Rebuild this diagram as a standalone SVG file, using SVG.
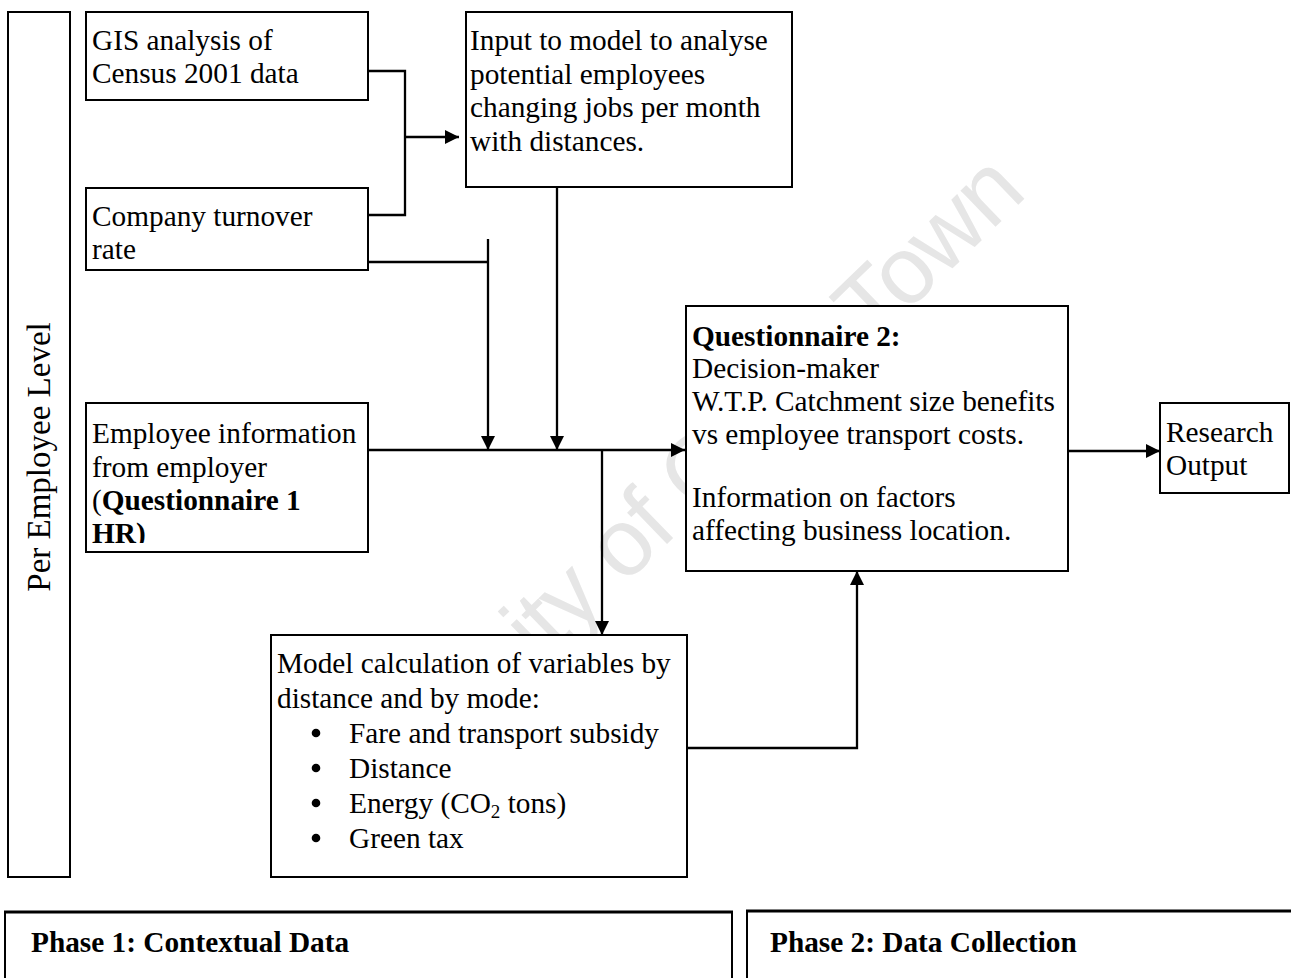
<svg xmlns="http://www.w3.org/2000/svg" width="1291" height="978" viewBox="0 0 1291 978">
<style>
.box{fill:#fff;stroke:#000;stroke-width:2}
.t{font-family:"Liberation Serif","Times New Roman",serif;font-size:29.3px;fill:#000}
.b{font-weight:bold}
.c{fill:none;stroke:#000;stroke-width:2.3}
.wm{font-family:"Liberation Sans",Arial,sans-serif;font-size:95px;fill:#e6e6e6;letter-spacing:-1.5px}
</style>
<defs>
<marker id="ah" markerUnits="userSpaceOnUse" markerWidth="15" markerHeight="15" refX="14" refY="7" orient="auto" viewBox="0 0 15 15">
<path d="M0,0 L14,7 L0,14 z" fill="#000"/>
</marker>
<clipPath id="empclip"><rect x="86" y="403" width="282" height="140"/></clipPath>
</defs>
<rect x="0" y="0" width="1291" height="978" fill="#fff"/>
<text class="wm" x="317" y="882" transform="rotate(-44 317 882)">University of Cape Town</text>

<g id="level">
<rect class="box" x="8" y="12" width="62" height="865"/>
<text class="t" font-size="33" transform="translate(50,457) rotate(-90)" text-anchor="middle" style="font-size:33px">Per Employee Level</text>
</g>

<g id="connectors">
<path class="c" d="M368,71 H405 V215 H368"/>
<path class="c" d="M405,137 H459" marker-end="url(#ah)"/>
<path class="c" d="M368,262 H488"/>
<path class="c" d="M488,239 V450" marker-end="url(#ah)"/>
<path class="c" d="M557,187 V450" marker-end="url(#ah)"/>
<path class="c" d="M368,450 H685" marker-end="url(#ah)"/>
<path class="c" d="M602,450 V635" marker-end="url(#ah)"/>
<path class="c" d="M687,748 H857 V571" marker-end="url(#ah)"/>
<path class="c" d="M1068,451 H1160" marker-end="url(#ah)"/>
</g>

<g id="gis">
<rect class="box" x="86" y="12" width="282" height="88"/>
<text class="t" x="92" y="50">GIS analysis of</text>
<text class="t" x="92" y="83">Census 2001 data</text>
</g>

<g id="turnover">
<rect class="box" x="86" y="188" width="282" height="82"/>
<text class="t" x="92" y="225.5">Company turnover</text>
<text class="t" x="92" y="258.5">rate</text>
</g>

<g id="input">
<rect class="box" x="466" y="12" width="326" height="175"/>
<text class="t" x="470" y="50">Input to model to analyse</text>
<text class="t" x="470" y="83.5">potential employees</text>
<text class="t" x="470" y="117">changing jobs per month</text>
<text class="t" x="470" y="150.5">with distances.</text>
</g>

<g id="employee">
<rect class="box" x="86" y="403" width="282" height="149"/>
<g clip-path="url(#empclip)">
<text class="t" x="92" y="443">Employee information</text>
<text class="t" x="92" y="476.5">from employer</text>
<text class="t" x="92" y="510">(<tspan class="b">Questionnaire 1</tspan></text>
<text class="t b" x="92" y="543">HR)</text>
</g>
</g>

<g id="questionnaire2">
<rect class="box" x="686" y="306" width="382" height="265"/>
<text class="t b" x="692" y="346">Questionnaire 2:</text>
<text class="t" x="692" y="378">Decision-maker</text>
<text class="t" x="692" y="411">W.T.P. Catchment size benefits</text>
<text class="t" x="692" y="444">vs employee transport costs.</text>
<text class="t" x="692" y="507">Information on factors</text>
<text class="t" x="692" y="540">affecting business location.</text>
</g>

<g id="research">
<rect class="box" x="1160" y="403" width="129" height="90"/>
<text class="t" x="1166" y="441.5">Research</text>
<text class="t" x="1166" y="474.5">Output</text>
</g>

<g id="model">
<rect class="box" x="271" y="635" width="416" height="242"/>
<text class="t" x="277" y="673">Model calculation of variables by</text>
<text class="t" x="277" y="708">distance and by mode:</text>
<circle cx="316" cy="733" r="4.3"/>
<text class="t" x="349" y="743">Fare and transport subsidy</text>
<circle cx="316" cy="768" r="4.3"/>
<text class="t" x="349" y="778">Distance</text>
<circle cx="316" cy="803" r="4.3"/>
<text class="t" x="349" y="813">Energy (CO<tspan font-size="19" dy="5">2</tspan><tspan dy="-5"> tons)</tspan></text>
<circle cx="316" cy="838" r="4.3"/>
<text class="t" x="349" y="848">Green tax</text>
</g>

<g id="phase1">
<path d="M5,990 V912 H732 V990" fill="#fff" stroke="#000" stroke-width="2"/>
<line x1="4" y1="912" x2="733" y2="912" stroke="#000" stroke-width="3"/>
<text class="t b" x="31" y="952">Phase 1: Contextual Data</text>
</g>

<g id="phase2">
<path d="M747,990 V911 H1300" fill="#fff" stroke="#000" stroke-width="2"/>
<line x1="746" y1="911" x2="1291" y2="911" stroke="#000" stroke-width="3"/>
<text class="t b" x="770" y="952">Phase 2: Data Collection</text>
</g>
</svg>
